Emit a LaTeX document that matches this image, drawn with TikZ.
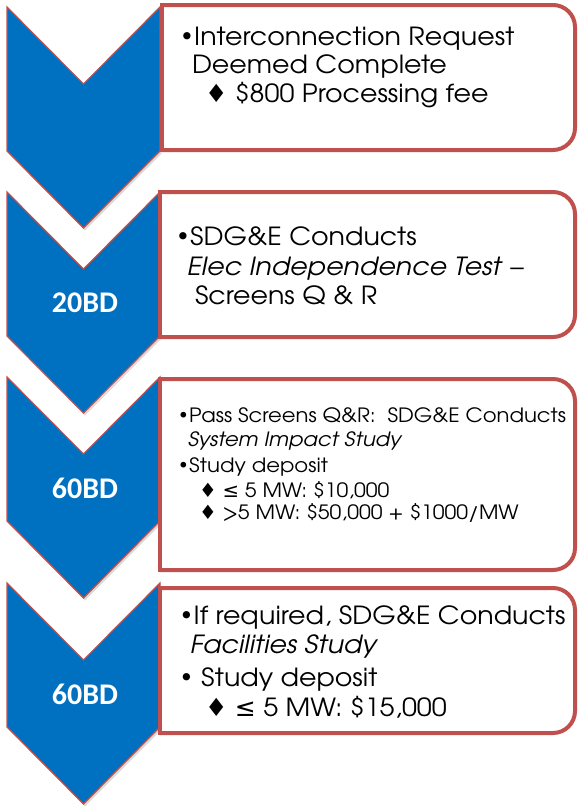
\documentclass[tikz,border=0pt]{standalone}
\usepackage{fontspec}
\setmainfont{TeX Gyre Adventor}[FakeStretch=1.075]
\newfontfamily\symf{DejaVu Sans}
\newfontfamily\labf{Carlito}
\definecolor{chevblue}{RGB}{0,112,192}
\definecolor{boxred}{RGB}{192,80,77}
\newcommand\dia{{\symf ♦}}
\newcommand\leqs{{\symf ≤}}
\newcommand\bul{{\symf •}}
\newcommand\mychev[1]{%
  \fill[chevshadow] (8.5,{#1+2.5}) -- (85,{#1+79.5}) -- (161.5,{#1+2.5}) -- (161.5,{#1+146.5}) -- (85,{#1+223.5}) -- (8.5,{#1+146.5}) -- cycle;
  \path[chev] (7,#1) -- (83.5,{#1+77}) -- (160,#1) -- (160,{#1+144}) -- (83.5,{#1+221}) -- (7,{#1+144}) -- cycle;}
\newcommand\mybox[1]{%
  \path[boxline,fill=white,rounded corners=22pt] (#1.north west) -- (#1.north east) -- (#1.south east) -- (#1.south west);
  \draw[boxline,line cap=rect] (#1.south west) -- (#1.north west);}
\begin{document}
\begin{tikzpicture}[x=1pt,y=-1pt,
  chev/.style={fill=chevblue,draw=boxred,line width=1.2pt,line join=miter},
  chevshadow/.style={fill=black,opacity=0.15},
  boxline/.style={draw=boxred,line width=4pt},
  bx/.style={anchor=north west,inner sep=0pt,outer sep=0pt,minimum width=415pt},
  txt/.style={anchor=base west,inner sep=0pt,outer sep=0pt,text=black},
  big/.style={txt,font=\fontsize{25}{30}\selectfont},
  small/.style={txt,font=\fontsize{19.7}{24}\selectfont},
  lab/.style={text=white,inner sep=0pt,font=\labf\bfseries\fontsize{30}{36}\selectfont}]
\useasboundingbox (0,0) rectangle (578,806);
% chevrons
\mychev{7}
\mychev{192}
\mychev{377}
\mychev{583}
% boxes
\node[bx,minimum width=413pt,minimum height=145pt] (b1) at (162,5) {};
\node[bx,minimum height=145pt] (b2) at (160,192) {};
\node[bx,minimum height=191pt] (b3) at (160,379) {};
\node[bx,minimum height=145pt] (b4) at (160,588) {};
\mybox{b1}
\mybox{b2}
\mybox{b3}
\mybox{b4}
% labels
\node[lab] (l2) at (85,303) {20BD};
\node[lab] (l3) at (85,488) {60BD};
\node[lab] (l4) at (85,694) {60BD};
% box 1
\node[big] (t1a) at (179.5,45) {\bul Interconnection Request};
\node[big] (t1b) at (192,73) {Deemed Complete};
\node[big] (t1c) at (205,102) {\dia{} \$800 Processing fee};
% box 2
\node[big] (t2a) at (175.5,245) {\bul SDG\&E Conducts};
\node[big] (t2b) at (187,275) {\textit{Elec Independence Test} –};
\node[big] (t2c) at (195,304) {Screens Q \& R};
% box 3
\node[small] (t3a) at (177.5,422) {\bul Pass Screens Q\&R:\ \ SDG\&E Conducts};
\node[small] (t3b) at (188,446) {\textit{System Impact Study}};
\node[small] (t3c) at (177.5,472) {\bul Study deposit};
\node[small] (t3d) at (199,497) {\dia{} \leqs{} 5 MW: \$10,000};
\node[small] (t3e) at (199,519) {\dia{} >5 MW: \$50,000 + \$1000/MW};
% box 4
\node[big] (t4a) at (179,624) {\bul If required, SDG\&E Conducts};
\node[big] (t4b) at (190,653) {\textit{Facilities Study}};
\node[big] (t4c) at (179,686) {\bul{} Study deposit};
\node[big] (t4d) at (205,716) {\dia{} \leqs{} 5 MW: \$15,000};
\end{tikzpicture}
\end{document}
